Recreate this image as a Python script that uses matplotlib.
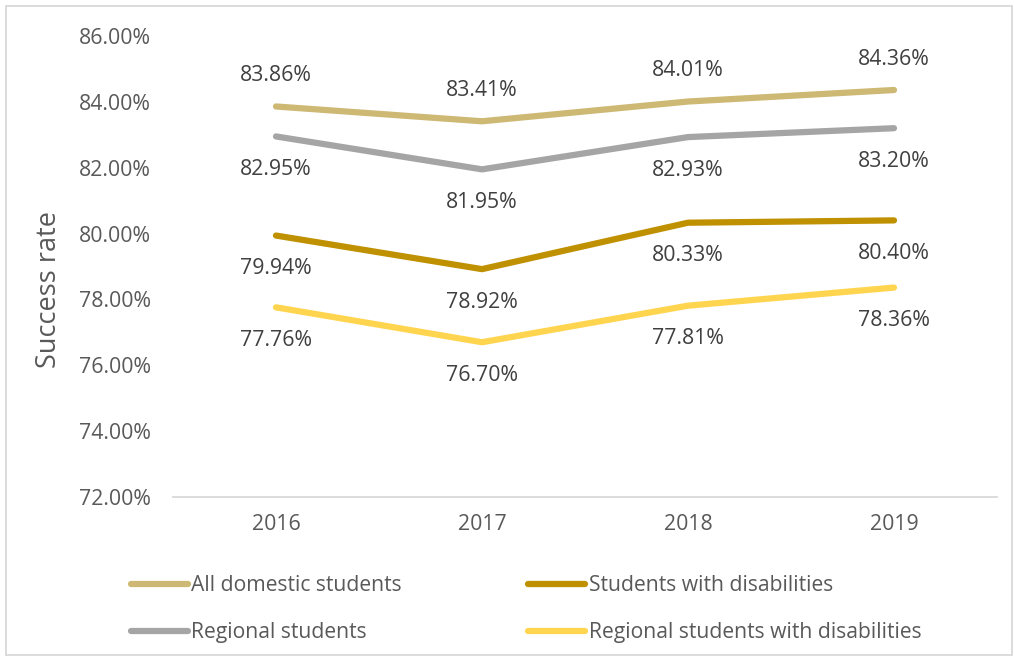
import matplotlib.pyplot as plt
from matplotlib.patches import Rectangle

years = ['2016', '2017', '2018', '2019']
all_domestic = [83.86, 83.41, 84.01, 84.36]
regional = [82.95, 81.95, 82.93, 83.20]
disabilities = [79.94, 78.92, 80.33, 80.40]
regional_disabilities = [77.76, 76.70, 77.81, 78.36]

series = [
    ('All domestic students', all_domestic, '#CDB874', 31),
    ('Regional students', regional, '#A5A5A5', -33),
    ('Students with disabilities', disabilities, '#BF9000', -33),
    ('Regional students with disabilities', regional_disabilities, '#FFD54F', -33),
]

plt.rcParams['font.family'] = ['Open Sans', 'DejaVu Sans']
text_color = '#595959'

fig = plt.figure(figsize=(10.14, 6.58), dpi=100)
ax = fig.add_axes([173 / 1014, 1 - 497 / 658, 824 / 1014, 461 / 658])

x = list(range(len(years)))
lines = {}
for name, vals, color, off in series:
    ln, = ax.plot(x, vals, color=color, lw=4.5, solid_capstyle='round', label=name)
    lines[name] = ln
    for xi, v in zip(x, vals):
        ax.annotate(f'{v:.2f}%', (xi, v), xytext=(0, off), textcoords='offset pixels',
                    ha='center', va='center', fontsize=15.3, color='#404040')

ax.set_xlim(-0.5, len(years) - 0.5)
ax.set_ylim(72, 86)
ax.set_yticks([72, 74, 76, 78, 80, 82, 84, 86])
ax.set_yticklabels([f'{t:.2f}%' for t in ax.get_yticks()])
ax.set_xticks(x)
ax.set_xticklabels(years)
ax.tick_params(axis='both', length=0, labelsize=15.3, labelcolor=text_color)
ax.tick_params(axis='y', pad=16)
ax.tick_params(axis='x', pad=12)
for s in ['top', 'right', 'left']:
    ax.spines[s].set_visible(False)
ax.spines['bottom'].set_color('#D9D9D9')
ax.spines['bottom'].set_linewidth(1.3)
ax.set_ylabel('Success rate', fontsize=19.5, color=text_color)
ax.yaxis.set_label_coords(-110 / 824, (497 - 290) / 461)

order = ['All domestic students', 'Regional students',
         'Students with disabilities', 'Regional students with disabilities']
leg = fig.legend([lines[n] for n in order], order, ncol=2, loc='upper left',
                 bbox_to_anchor=(112 / 1014, 1 - 556 / 658), frameon=False,
                 handlelength=2.7, handletextpad=0.15,
                 columnspacing=6.0, labelspacing=1.25,
                 prop={'size': 15.2})
for t in leg.get_texts():
    t.set_color(text_color)

fig.patches.append(Rectangle((6 / 1014, 0.004), 1 - 8 / 1014, 1 - 6 / 658 - 0.004,
                             transform=fig.transFigure, fill=False,
                             edgecolor='#D9D9D9', lw=1.3))

fig.savefig('out.png', dpi=100)
